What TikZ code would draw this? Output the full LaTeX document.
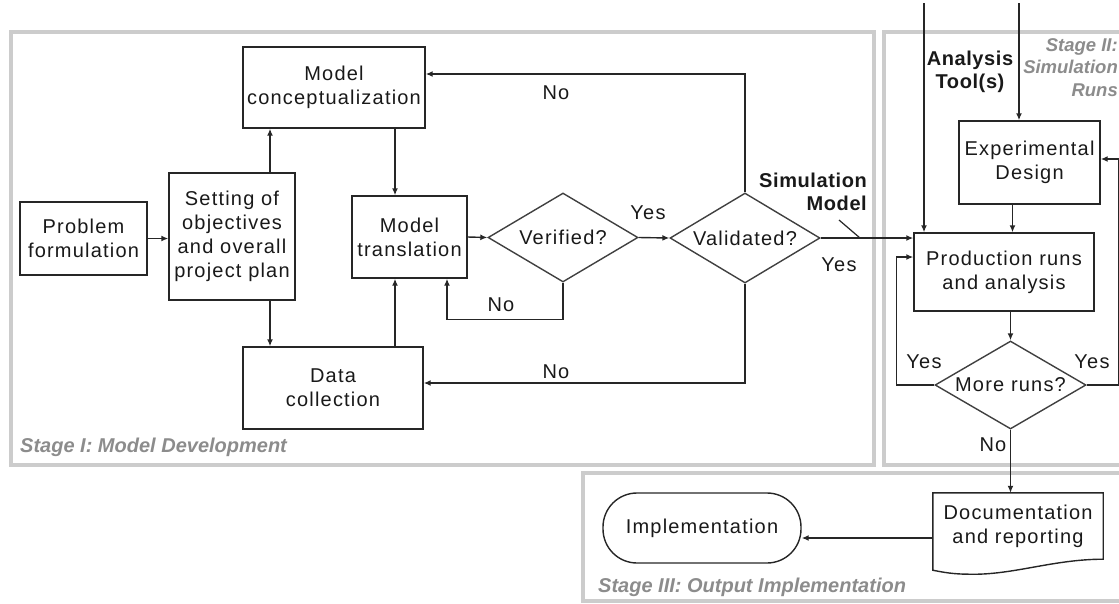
\documentclass[tikz,border=0pt]{standalone}
\usepackage{fontspec}
\setmainfont{Liberation Sans}[LetterSpace=6]
\newfontfamily\stagefont{Liberation Sans}
\newfontfamily\boldfont{Liberation Sans}[LetterSpace=3]
\usetikzlibrary{arrows.meta,shapes.geometric,calc}
\begin{document}
\begin{tikzpicture}[x=1pt,y=-1pt,
  every node/.style={font=\fontsize{20}{24}\selectfont, text=black!90, inner sep=0pt},
  box/.style={draw=black!85, line width=1.4pt, inner sep=0pt, align=center},
  dia/.style={diamond, draw=black!75, line width=1.4pt, inner sep=0pt, aspect=1.7, align=center},
  arr/.style={-{Latex[length=7pt,width=6pt]}, draw=black!85, line width=1.4pt},
  ln/.style={draw=black!85, line width=1.2pt},
  frame/.style={draw=black!20, line width=4.5pt},
  stage/.style={font=\stagefont\fontsize{20}{22.5}\selectfont\bfseries\itshape, text=black!45},
  boldlbl/.style={font=\boldfont\fontsize{20}{23}\selectfont\bfseries}
]
\useasboundingbox (0,0) rectangle (1119,603);
\clip (0,0) rectangle (1119,603);

% stage frames
\draw[frame] (11,32) rectangle (874,465);
\draw[frame] (884,32) rectangle (1135,465);
\draw[frame] (583,473) rectangle (1135,601);

% nodes
\node[box, minimum width=127, minimum height=73] (prob) at (83.5,238.5) {Problem\\formulation};
\node[box, minimum width=126, minimum height=127] (set) at (232,236.5) {Setting of\\objectives\\and overall\\project plan};
\node[box, minimum width=182, minimum height=81] (con) at (334,87.5) {Model\\conceptualization};
\node[box, minimum width=115, minimum height=82] (tra) at (409.5,237) {Model\\translation};
\node[box, minimum width=180, minimum height=82] (dat) at (333,388) {Data\\collection};
\node[dia, minimum width=150, minimum height=89] (ver) at (563,237.5) {Verified?};
\node[dia, minimum width=150, minimum height=90] (val) at (745,238) {Validated?};
\node[box, minimum width=141, minimum height=83] (exp) at (1029.5,162.5) {Experimental\\Design};
\node[box, minimum width=180, minimum height=78] (prd) at (1004,272) {Production runs\\and analysis};
\node[dia, minimum width=151, minimum height=88] (mor) at (1010.5,385) {More runs?};
\node[align=center, minimum width=170, minimum height=66] (doc) at (1018,526) {Documentation\\and reporting};
\draw[draw=black!85, line width=1.4pt] (doc.north west) -- (doc.north east) -- (doc.south east)
  .. controls ($(doc.south east)+(-50,0)$) and ($(doc.south west)+(80,16)$) .. ($(doc.south west)+(37,15)$)
  .. controls ($(doc.south west)+(20,15)$) and ($(doc.south west)+(10,13)$) .. ($(doc.south west)+(0,11)$) -- cycle;
\node[box, rounded corners=34pt, minimum width=198, minimum height=70] (imp) at (702,528) {Implementation};

% connectors
\draw[arr] (prob.east) -- (prob.east -| set.west);
\draw[arr] ([xshift=38pt]set.north) -- ([xshift=38pt]set.north |- con.south);
\draw[arr] ([xshift=38pt]set.south) -- ([xshift=38pt]set.south |- dat.north);
\draw[arr] ([xshift=-14.5pt]tra.north |- con.south) -- ([xshift=-14.5pt]tra.north);
\draw[arr] ([xshift=-14.5pt]tra.south |- dat.north) -- ([xshift=-14.5pt]tra.south);
\draw[arr] (tra.east) -- (ver.west);
\draw[arr] (ver.south) -- ++(0,37) -| ([xshift=37.5pt]tra.south);
\draw[arr] (ver.east) -- (val.west);
\draw[arr] (val.north) |- ([yshift=13.5pt]con.east);
\draw[arr] (val.south) |- ([yshift=5pt]dat.east);
\draw[arr] (val.east) -- (val.east -| prd.west);
\coordinate (a1) at (924,3);
\coordinate (a2) at (1019,3);
\draw[arr] (a1) -- (a1 |- prd.north);
\draw[arr] (a2) -- (a2 |- exp.north);
\draw[arr] ([xshift=-17pt]exp.south) -- ([xshift=-17pt]exp.south |- prd.north);
\draw[arr] (mor.north |- prd.south) -- (mor.north);
\draw[arr] (mor.west) -- ++(-38,0) |- ([yshift=15pt]prd.west);
\draw[arr] (mor.east) -- ++(32,0) |- ([yshift=3.5pt]exp.east);
\draw[arr] (mor.south) -- (mor.south |- doc.north);
\draw[arr] ([yshift=-12pt]doc.west) -- ([yshift=-12pt]doc.west -| imp.east);

% labels
\node (lno1) at (556,93) {No};
\node (lyes1) at (648,213) {Yes};
\node (lno2) at (501,305) {No};
\node (lno3) at (556,372) {No};
\node (lyes2) at (839,265) {Yes};
\node[boldlbl, align=right, anchor=east] (sim) at (867,191.5) {Simulation\\Model};
\coordinate (simfoot) at (839,220);
\coordinate (simtip) at (860,238);
\draw[ln] (simfoot) -- (simtip);
\node[boldlbl, align=center] (ana) at (970,71.5) {Analysis\\Tool(s)};
\node (lyes3) at (924,362) {Yes};
\node (lyes4) at (1092,362) {Yes};
\node (lno4) at (993,445) {No};

% stage labels
\node[stage, anchor=west] (s1) at (20,447) {Stage I: Model Development};
\node[stage, font=\stagefont\fontsize{18.5}{22.5}\selectfont\bfseries\itshape, anchor=east, align=right] (s2) at (1118,67.5) {Stage II:\\Simulation\\Runs};
\node[stage, anchor=west] (s3) at (598,587) {Stage III: Output Implementation};
\end{tikzpicture}
\end{document}
